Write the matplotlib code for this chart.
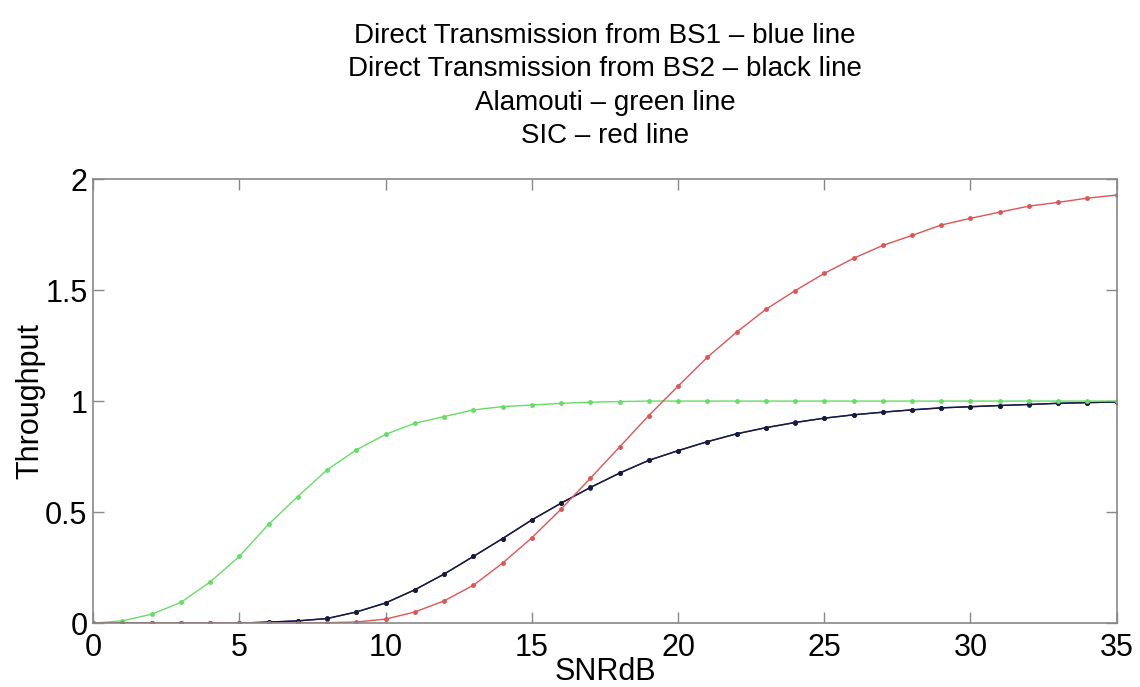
import matplotlib.pyplot as plt
import numpy as np

# SNR en dB (un punto por cada dB)
snr_db = np.arange(0, 36)

# Throughput
bs1 = [0, 0, 0, 0, 0, 0, 0.005, 0.01, 0.02, 0.05, 0.09, 0.15, 0.22, 0.30,
       0.38, 0.464, 0.54, 0.61, 0.676, 0.733, 0.776, 0.817, 0.853, 0.88,
       0.904, 0.923, 0.938, 0.95, 0.961, 0.97, 0.974, 0.98, 0.984, 0.99,
       0.993, 0.996]
bs2 = [0, 0, 0, 0, 0, 0, 0.004, 0.01, 0.021, 0.05, 0.091, 0.15, 0.221, 0.30,
       0.381, 0.465, 0.54, 0.611, 0.675, 0.733, 0.777, 0.817, 0.852, 0.88,
       0.903, 0.923, 0.938, 0.95, 0.96, 0.969, 0.975, 0.98, 0.985, 0.99,
       0.993, 0.996]
alamouti = [0, 0.01, 0.04, 0.093, 0.185, 0.30, 0.445, 0.57, 0.69, 0.78,
            0.85, 0.90, 0.93, 0.96, 0.975, 0.982, 0.99, 0.995, 0.998, 1.0,
            1.0, 1.0, 1.0, 1.0, 1.0, 1.0, 1.0, 1.0, 1.0, 1.0, 1.0, 1.0, 1.0,
            1.0, 1.0, 1.0]
sic = [0, 0, 0, 0, 0, 0, 0, 0, 0.002, 0.005, 0.018, 0.05, 0.10, 0.17, 0.27,
       0.384, 0.513, 0.652, 0.793, 0.935, 1.067, 1.197, 1.31, 1.413, 1.497,
       1.575, 1.643, 1.701, 1.746, 1.793, 1.823, 1.851, 1.878, 1.895, 1.914,
       1.928]

titulo = ("Direct Transmission from BS1 \u2013 blue line\n"
          "Direct Transmission from BS2 \u2013 black line\n"
          "Alamouti \u2013 green line\n"
          "SIC \u2013 red line")

plt.rcParams['font.family'] = ['Liberation Sans', 'DejaVu Sans']

fig = plt.figure(figsize=(11.4, 6.87), dpi=100)
ax = fig.add_axes([0.0816, 0.093, 0.898, 0.6464])

ax.plot(snr_db, bs1, '.-', color='#2233aa', lw=1.0, ms=5)
ax.plot(snr_db, bs2, '.-', color='#1a1a33', lw=1.0, ms=5)
ax.plot(snr_db, alamouti, '.-', color='#66dd66', lw=1.0, ms=5)
ax.plot(snr_db, sic, '.-', color='#dd5555', lw=1.0, ms=5)

ax.set_xlim(0, 35)
ax.set_ylim(0, 2)
ax.set_xticks([0, 5, 10, 15, 20, 25, 30, 35])
ax.set_yticks([0, 0.5, 1, 1.5, 2])
ax.set_yticklabels(['0', '0.5', '1', '1.5', '2'])

ax.tick_params(direction='in', top=True, right=True, length=8,
               width=1, color='#888888', labelsize=22)
ax.tick_params(axis='x', pad=7)
ax.tick_params(axis='y', pad=4)
for s in ax.spines.values():
    s.set_color('#888888')
    s.set_linewidth(1.2)

ax.set_xlabel('SNRdB', fontsize=22, labelpad=-4)
ax.set_ylabel('Throughput', fontsize=22, labelpad=0)
ax.set_title(titulo, fontsize=20, linespacing=1.37, pad=26)

fig.savefig('out.png', dpi=100)
